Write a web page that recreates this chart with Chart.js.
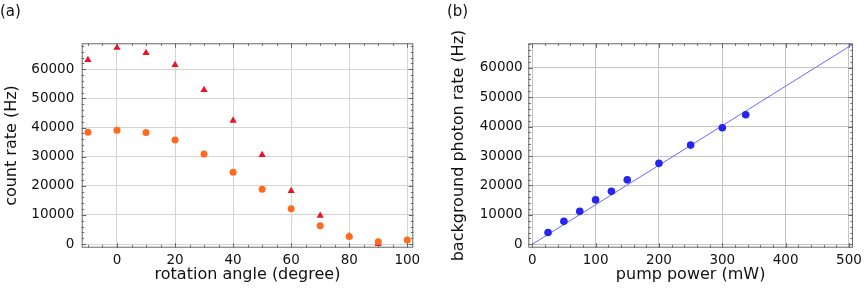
<!DOCTYPE html>
<html>
<head>
<meta charset="utf-8">
<script src="https://cdn.jsdelivr.net/npm/chart.js@4"></script>
<style>
  html, body { margin: 0; padding: 0; background: #fff; }
  .panel { position: absolute; top: 0; height: 296px; }
  #left { left: 0; width: 430px; }
  #right { left: 430px; width: 437px; }
</style>
</head>
<body>
<div class="panel" id="left"><canvas id="chartA"></canvas></div>
<div class="panel" id="right"><canvas id="chartB"></canvas></div>
<script>
// (a) count rate vs rotation angle
const triangleAngles = [-10, 0, 10, 20, 30, 40, 50, 60, 70, 80, 90];
const triangleRate = [63200, 67400, 65600, 61500, 52900, 42400, 30600, 18200, 9700, 2700, 0];
const circleAngles = [-10, 0, 10, 20, 30, 40, 50, 60, 70, 80, 90, 100];
const circleRate = [38400, 39100, 38300, 35700, 30900, 24600, 18800, 12100, 6300, 2600, 800, 1400];
const angleTicks = [0, 20, 40, 60, 80, 100];

// (b) background photon rate vs pump power
const pumpPower = [25, 50, 75, 100, 125, 150, 200, 250, 300, 337];
const bgRate = [4000, 7800, 11200, 15100, 18000, 21900, 27500, 33700, 39600, 44000];
const fitPower = [0, 510];
const fitRate = [0, 68500];
const powerTicks = [0, 100, 200, 300, 400, 500];
const rateTicks = [0, 10000, 20000, 30000, 40000, 50000, 60000];

const FONT = 'DejaVu Sans';
const pts = (xs, ys) => xs.map((x, i) => ({x: x, y: ys[i]}));

// mathematica style frame: box with inward ticks on all four sides
const frameTicks = {
  id: 'frameTicks',
  afterDatasetsDraw(chart, args, opts) {
    const {ctx, chartArea: a} = chart;
    const xs = chart.scales.x, ys = chart.scales.y;
    ctx.save();
    ctx.strokeStyle = '#666';
    ctx.lineWidth = 1;
    ctx.strokeRect(a.left + 0.5, a.top + 0.5, a.right - a.left - 1, a.bottom - a.top - 1);
    ctx.beginPath();
    const first = (min, step) => Math.ceil(min / step) * step;
    for (let v = first(xs.min, opts.xMinor); v <= xs.max; v += opts.xMinor) {
      const px = Math.round(xs.getPixelForValue(v)) + 0.5;
      const len = Math.abs(v / opts.xMajor - Math.round(v / opts.xMajor)) < 1e-6 ? 4.5 : 2.5;
      ctx.moveTo(px, a.bottom); ctx.lineTo(px, a.bottom - len);
      ctx.moveTo(px, a.top); ctx.lineTo(px, a.top + len);
    }
    for (let v = first(ys.min, opts.yMinor); v <= ys.max; v += opts.yMinor) {
      const py = Math.round(ys.getPixelForValue(v)) + 0.5;
      const len = Math.abs(v / opts.yMajor - Math.round(v / opts.yMajor)) < 1e-6 ? 4.5 : 2.5;
      ctx.moveTo(a.left, py); ctx.lineTo(a.left + len, py);
      ctx.moveTo(a.right, py); ctx.lineTo(a.right - len, py);
    }
    ctx.stroke();
    ctx.restore();
  }
};

function makeOptions(cfg) {
  return {
    responsive: false,
    animation: false,
    layout: { padding: { left: cfg.padLeft, right: cfg.padRight, top: 0, bottom: 0 } },
    plugins: {
      legend: { display: false },
      tooltip: { enabled: false },
      title: {
        display: true, text: cfg.tag, align: 'start', color: '#111',
        font: { family: FONT, size: 15, weight: 'normal' },
        padding: { top: 3.5, bottom: 21.8 }
      },
      frameTicks: cfg.frame
    },
    scales: {
      x: {
        type: 'linear', min: cfg.xMin, max: cfg.xMax,
        afterFit: s => { s.height = 48.3; },
        afterBuildTicks: s => { s.ticks = cfg.xTicks.map(v => ({value: v})); },
        border: { display: false },
        grid: { color: cfg.gridColor, lineWidth: 1, drawTicks: false },
        ticks: { color: '#111', padding: 5, maxRotation: 0, autoSkip: false,
                 font: { family: FONT, size: 13.5 } },
        title: { display: true, text: cfg.xTitle, color: '#111',
                 font: { family: FONT, size: 16 }, padding: { top: 0, bottom: 12 } }
      },
      y: {
        type: 'linear', min: cfg.yMin, max: cfg.yMax,
        afterFit: s => { s.width = cfg.yWidth; },
        afterBuildTicks: s => { s.ticks = rateTicks.map(v => ({value: v})); },
        border: { display: false },
        grid: { color: cfg.gridColor, lineWidth: 1, drawTicks: false },
        ticks: { color: '#111', padding: cfg.yPad, font: { family: FONT, size: 13.5 },
                 callback: v => String(v) },
        title: { display: true, text: cfg.yTitle, color: '#111',
                 font: { family: FONT, size: 16 }, padding: { top: 2, bottom: 0 } }
      }
    }
  };
}

function setup(id, w) {
  const c = document.getElementById(id);
  c.width = w; c.height = 296;
  c.style.width = w + 'px'; c.style.height = '296px';
  return c;
}

new Chart(setup('chartA', 430), {
  type: 'scatter',
  data: {
    datasets: [
      { label: 'circles', data: pts(circleAngles, circleRate), pointStyle: 'circle',
        pointRadius: 3.5, pointBorderWidth: 0, backgroundColor: '#ff6a1c', clip: false },
      { label: 'triangles', data: pts(triangleAngles, triangleRate), pointStyle: 'triangle',
        pointRadius: 4.2, pointBorderWidth: 0, backgroundColor: '#ee1126', clip: false }
    ]
  },
  options: makeOptions({
    tag: '(a)', padLeft: 0, padRight: 16.7, yWidth: 81.7, yPad: 7.4,
    xMin: -12.16, xMax: 102.07, yMin: -1270, yMax: 68930,
    xTicks: angleTicks, gridColor: '#d4d4d4',
    xTitle: 'rotation angle (degree)', yTitle: 'count rate (Hz)',
    frame: { xMinor: 5, xMajor: 20, yMinor: 2000, yMajor: 10000 }
  }),
  plugins: [frameTicks]
});

new Chart(setup('chartB', 437), {
  type: 'scatter',
  data: {
    datasets: [
      { label: 'data', data: pts(pumpPower, bgRate), pointStyle: 'circle',
        pointRadius: 3.8, pointBorderWidth: 0, backgroundColor: '#2626ee', clip: false },
      { label: 'fit', data: pts(fitPower, fitRate), showLine: true, pointRadius: 0,
        borderColor: '#6a6aff', borderWidth: 1, clip: true }
    ]
  },
  options: makeOptions({
    tag: '(b)', padLeft: 17, padRight: 9.7, yWidth: 81.3, yPad: 5.6,
    xMin: -6.2, xMax: 506.2, yMin: -1155, yMax: 68290,
    xTicks: powerTicks, gridColor: '#c4c4c4',
    xTitle: 'pump power (mW)', yTitle: 'background photon rate (Hz)',
    frame: { xMinor: 20, xMajor: 100, yMinor: 2000, yMajor: 10000 }
  }),
  plugins: [frameTicks]
});
</script>
</body>
</html>
